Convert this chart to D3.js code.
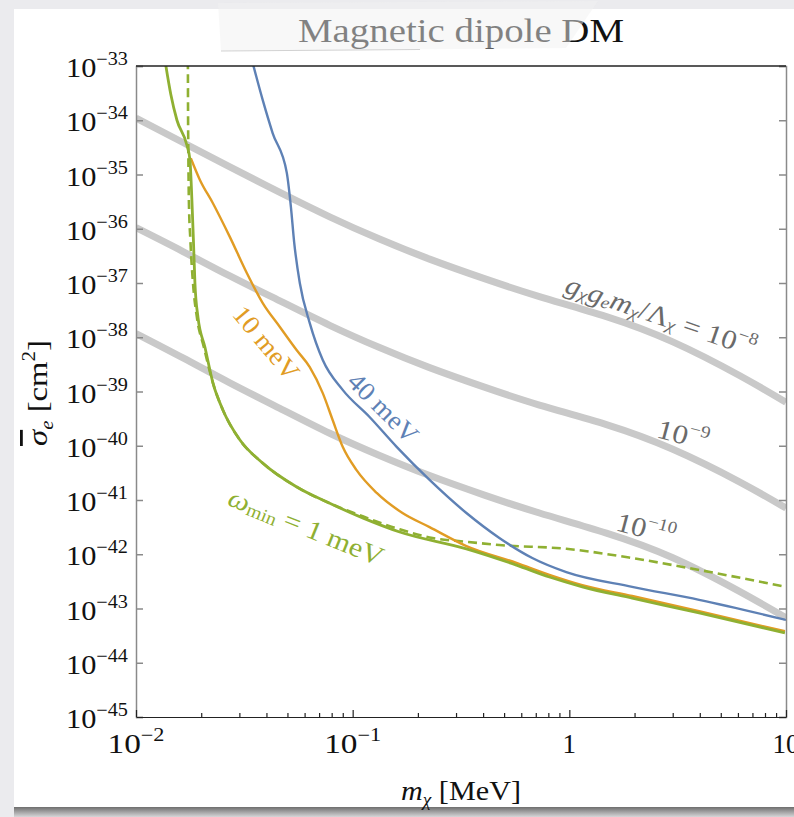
<!DOCTYPE html>
<html><head><meta charset="utf-8">
<script src="https://cdn.jsdelivr.net/npm/d3@7"></script>
<style>
html,body{margin:0;padding:0;background:#ebebee;overflow:hidden}
svg{display:block}
text{font-family:"Liberation Serif","Times New Roman",serif}
</style></head>
<body>
<svg id="c" width="794" height="817"></svg>
<script>
// ---- data (log10 values) ----
const grayX = [-2.0,-1.783,-1.567,-1.336,-1.106,-0.876,-0.645,-0.392,-0.138,0.171,0.475,0.783,1.0];
const grayA_y = [-33.96,-34.41,-34.86,-35.33,-35.78,-36.19,-36.56,-36.92,-37.25,-37.62,-38.08,-38.70,-39.20];
const grayB_y = [-35.98,-36.42,-36.87,-37.33,-37.78,-38.19,-38.56,-38.92,-39.25,-39.61,-40.06,-40.66,-41.15];
const grayC_y = [-37.93,-38.38,-38.84,-39.31,-39.77,-40.18,-40.55,-40.91,-41.24,-41.61,-42.06,-42.68,-43.17];

const green_x = [-1.866,-1.839,-1.811,-1.765,-1.751,-1.742,-1.735,-1.728,-1.714,-1.682,-1.645,-1.599,-1.521,-1.415,-1.258,-1.106,-0.954,-0.783,-0.475,-0.244,-0.092,0.060,0.290,0.599,0.995];
const green_y = [-32.9,-33.53,-34.0,-34.46,-34.73,-35.47,-36.21,-37.0,-37.63,-38.18,-38.84,-39.34,-39.89,-40.32,-40.76,-41.06,-41.33,-41.59,-41.90,-42.20,-42.42,-42.60,-42.81,-43.08,-43.45];

const greenDash_x = [-1.7605,-1.7600,-1.7585,-1.7560,-1.749,-1.737,-1.719,-1.687,-1.645,-1.599,-1.521,-1.415,-1.258,-1.106,-0.954,-0.783,-0.631,-0.475,-0.323,-0.014,0.290,0.599,1.0];
const greenDash_y = [-32.89,-33.63,-34.55,-35.47,-36.21,-37.0,-37.63,-38.18,-38.84,-39.34,-39.89,-40.32,-40.76,-41.06,-41.30,-41.54,-41.70,-41.77,-41.83,-41.90,-42.07,-42.29,-42.60];

const orange_x = [-1.747,-1.705,-1.645,-1.567,-1.488,-1.415,-1.336,-1.258,-1.198,-1.138,-1.092,-1.046,-0.982,-0.889,-0.770,-0.645,-0.475,-0.244,-0.092,0.060,0.290,0.599,0.995];
const orange_y = [-34.70,-35.10,-35.53,-36.15,-36.82,-37.37,-37.81,-38.24,-38.55,-39.03,-39.53,-40.02,-40.45,-40.87,-41.24,-41.50,-41.85,-42.16,-42.38,-42.57,-42.77,-43.05,-43.42];

const blue_x = [-1.465,-1.415,-1.369,-1.304,-1.285,-1.270,-1.244,-1.198,-1.138,-1.046,-0.922,-0.797,-0.645,-0.475,-0.323,-0.171,-0.014,0.290,0.599,1.0];
const blue_y = [-32.89,-33.63,-34.24,-34.97,-35.60,-36.25,-37.0,-37.74,-38.42,-38.97,-39.47,-40.02,-40.63,-41.24,-41.70,-42.07,-42.33,-42.60,-42.84,-43.21];

const yTickExps = [-33,-34,-35,-36,-37,-38,-39,-40,-41,-42,-43,-44,-45];
const xTickExps = [-2,-1,0,1];
const xTickLabels = [["10","\u22122"],["10","\u22121"],["1",""],["10",""]];

// ---- layout ----
const L=136, R=786, T=66, B=717;
const svg = d3.select("#c");
const x = d3.scaleLog().domain([1e-2,10]).range([L,R]);
const y = d3.scaleLog().domain([1e-45,1e-33]).range([B,T]);

// background card
const defs = svg.append("defs");
const g1 = defs.append("linearGradient").attr("id","sh").attr("x1",0).attr("x2",0).attr("y1",0).attr("y2",1);
g1.append("stop").attr("offset","0%").attr("stop-color","#6e6e6e");
g1.append("stop").attr("offset","100%").attr("stop-color","#d6d6d8");
svg.append("rect").attr("x",14).attr("y",9).attr("width",780).attr("height",798).attr("fill","#ffffff");
svg.append("rect").attr("x",14).attr("y",807).attr("width",780).attr("height",10).attr("fill","url(#sh)");

defs.append("clipPath").attr("id","clip").append("rect").attr("x",L).attr("y",T).attr("width",R-L).attr("height",B-T);

const pts = (xs,ys)=>xs.map((v,i)=>[Math.pow(10,v),Math.pow(10,ys[i])]);
const plot = svg.append("g").attr("clip-path","url(#clip)");
const lineM = d3.line().x(d=>x(d[0])).y(d=>y(d[1])).curve(d3.curveMonotoneX);
const lineN = d3.line().x(d=>x(d[0])).y(d=>y(d[1])).curve(d3.curveNatural);

[grayA_y,grayB_y,grayC_y].forEach(ys=>{
  plot.append("path").attr("d",lineN(pts(grayX,ys))).attr("fill","none")
    .attr("stroke","#c9c9c9").attr("stroke-width",7);
});
plot.append("path").attr("d",lineM(pts(greenDash_x,greenDash_y))).attr("fill","none")
  .attr("stroke","#8fb032").attr("stroke-width",2.6).attr("stroke-dasharray","9,5");
plot.append("path").attr("d",lineM(pts(blue_x,blue_y))).attr("fill","none")
  .attr("stroke","#5e81b5").attr("stroke-width",2.4);
plot.append("path").attr("d",lineM(pts(orange_x,orange_y))).attr("fill","none")
  .attr("stroke","#e19c24").attr("stroke-width",2.4);
plot.append("path").attr("d",lineM(pts(green_x,green_y))).attr("fill","none")
  .attr("stroke","#8fb032").attr("stroke-width",2.8);

// frame & axes
const yAx = svg.append("g").attr("transform",`translate(${L},0)`)
  .call(d3.axisLeft(y).tickValues(yTickExps.map(e=>Math.pow(10,e))).tickSize(-7).tickFormat(""));
const yAxR = svg.append("g").attr("transform",`translate(${R},0)`)
  .call(d3.axisRight(y).tickValues(yTickExps.map(e=>Math.pow(10,e))).tickSize(-7).tickFormat(""));
[yAx,yAxR].forEach(a=>{a.selectAll("path,line").attr("stroke","#8a8a8a").attr("stroke-width",1.5);});
const minor=[];
for(let d=-2;d<1;d++) for(let k=2;k<10;k++) minor.push(k*Math.pow(10,d));
const xAxMin = svg.append("g").attr("transform",`translate(0,${B})`)
  .call(d3.axisBottom(x).tickValues(minor).tickSize(-4).tickFormat("").tickSizeOuter(0));
const xAx = svg.append("g").attr("transform",`translate(0,${B})`)
  .call(d3.axisBottom(x).tickValues(xTickExps.map(e=>Math.pow(10,e))).tickSize(-7).tickFormat("").tickSizeOuter(0));
xAxMin.select("path").remove();
[xAx,xAxMin].forEach(a=>a.selectAll("path,line").attr("stroke","#222").attr("stroke-width",1.2));
svg.append("line").attr("x1",L).attr("x2",R).attr("y1",T).attr("y2",T).attr("stroke","#222").attr("stroke-width",1.3);

// y tick labels
yTickExps.forEach(e=>{
  const t = svg.append("text").attr("x",128).attr("y",y(Math.pow(10,e))+11).attr("text-anchor","end")
    .attr("font-size",27).attr("fill","#111").attr("textLength",62).attr("lengthAdjust","spacingAndGlyphs");
  t.append("tspan").text("10");
  t.append("tspan").attr("dy",-12).attr("font-size",18).text("\u2212"+(-e));
});
// x tick labels
xTickExps.forEach((e,i)=>{
  const t = svg.append("text").attr("x",x(Math.pow(10,e))).attr("y",753).attr("text-anchor","middle")
    .attr("font-size",27).attr("fill","#111");
  if(xTickLabels[i][1]) t.attr("textLength",57).attr("lengthAdjust","spacingAndGlyphs");
  t.append("tspan").text(xTickLabels[i][0]);
  if(xTickLabels[i][1]) t.append("tspan").attr("dy",-12).attr("font-size",18).text(xTickLabels[i][1]);
});

// axis titles
const xl = svg.append("text").attr("x",461).attr("y",800).attr("text-anchor","middle").attr("font-size",28).attr("fill","#111")
  .attr("textLength",120).attr("lengthAdjust","spacingAndGlyphs");
xl.append("tspan").attr("font-style","italic").text("m");
xl.append("tspan").attr("font-style","italic").attr("font-size",18).attr("dy",6).text("\u03c7");
xl.append("tspan").attr("dy",-6).text(" [MeV]");

const yl = svg.append("text").attr("transform","translate(47,393) rotate(-90)").attr("text-anchor","middle").attr("font-size",28).attr("fill","#111")
  .attr("textLength",106).attr("lengthAdjust","spacingAndGlyphs");
yl.append("tspan").attr("font-style","italic").style("text-decoration","overline").text("\u03c3");
yl.append("tspan").attr("font-style","italic").attr("font-size",18).attr("dy",6).text("e");
yl.append("tspan").attr("dy",-6).text(" [cm");
yl.append("tspan").attr("dy",-12).attr("font-size",18).text("2");
yl.append("tspan").attr("dy",12).text("]");

// title + tape
svg.append("text").attr("x",461).attr("y",42).attr("text-anchor","middle").attr("font-size",34)
  .attr("textLength",326).attr("lengthAdjust","spacingAndGlyphs").attr("fill","#111").text("Magnetic dipole DM");
svg.append("polygon").attr("points","218,3 598,1 566,48 221,51")
  .attr("fill","#f1f1f1").attr("opacity",0.5);
svg.append("line").attr("x1",221).attr("x2",420).attr("y1",51).attr("y2",49.5)
  .attr("stroke","#d2d2d2").attr("stroke-width",1.2);

// in-plot labels
function lab(cx,cy,ang,color,size,len,build){
  const t = svg.append("text").attr("transform",`translate(${cx},${cy}) rotate(${ang})`)
    .attr("text-anchor","middle").attr("dominant-baseline","central").attr("font-size",size).attr("fill",color);
  if(len) t.attr("textLength",len).attr("lengthAdjust","spacingAndGlyphs");
  build(t);
}
lab(266,343,50,"#e19c24",26,88,t=>t.text("10 meV"));
lab(383,408,45,"#5e81b5",26,88,t=>t.text("40 meV"));
lab(306,527,22,"#8fb032",27,165,t=>{
  t.append("tspan").attr("font-style","italic").text("\u03c9");
  t.append("tspan").attr("font-size",18).attr("dy",5).text("min");
  t.append("tspan").attr("dy",-5).text(" = 1 meV");
});
lab(661,316,19,"#6a6a6a",27,200,t=>{
  t.append("tspan").attr("font-style","italic").text("g");
  t.append("tspan").attr("font-style","italic").attr("font-size",17).attr("dy",5).text("\u03c7");
  t.append("tspan").attr("font-style","italic").attr("dy",-5).text("g");
  t.append("tspan").attr("font-style","italic").attr("font-size",17).attr("dy",5).text("e");
  t.append("tspan").attr("font-style","italic").attr("dy",-5).text("m");
  t.append("tspan").attr("font-style","italic").attr("font-size",17).attr("dy",5).text("\u03c7");
  t.append("tspan").attr("dy",-5).text("/\u039b");
  t.append("tspan").attr("font-style","italic").attr("font-size",17).attr("dy",5).text("\u03c7");
  t.append("tspan").attr("dy",-5).text(" = 10");
  t.append("tspan").attr("font-size",17).attr("dy",-9).text("\u22128");
});
lab(683,435,15,"#6a6a6a",27,52,t=>{
  t.append("tspan").text("10");
  t.append("tspan").attr("font-size",17).attr("dy",-9).text("\u22129");
});
lab(646,529,15,"#6a6a6a",27,60,t=>{
  t.append("tspan").text("10");
  t.append("tspan").attr("font-size",17).attr("dy",-9).text("\u221210");
});
</script>
</body></html>
